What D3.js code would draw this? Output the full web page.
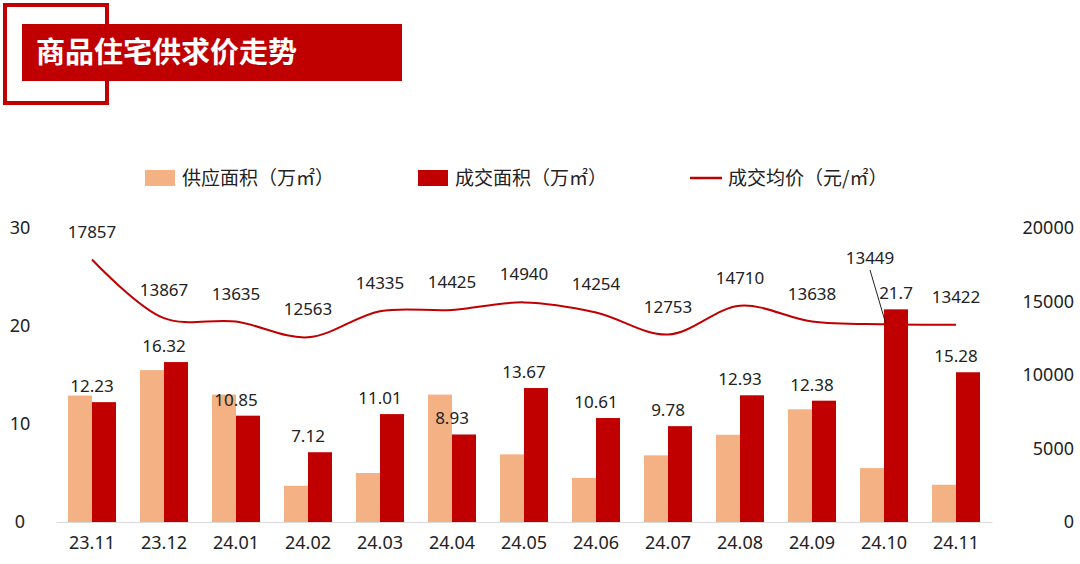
<!DOCTYPE html><html><head><meta charset="utf-8">
<script src="https://cdn.jsdelivr.net/npm/d3@7/dist/d3.min.js"></script>
<style>body{margin:0;background:#fff}svg{font-family:"Noto Sans CJK SC","Noto Sans",sans-serif}</style></head><body>
<svg id="c" width="1080" height="564"></svg>
<script>
const categories=["23.11","23.12","24.01","24.02","24.03","24.04","24.05","24.06","24.07","24.08","24.09","24.10","24.11"];
const supply=[12.9,15.5,13.0,3.7,5.0,13.0,6.9,4.5,6.8,8.9,11.5,5.5,3.8];
const deal=[12.23,16.32,10.85,7.12,11.01,8.93,13.67,10.61,9.78,12.93,12.38,21.7,15.28];
const price=[17857,13867,13635,12563,14335,14425,14940,14254,12753,14710,13638,13449,13422];
const leftTicks=[0,10,20,30];
const rightTicks=[0,5000,10000,15000,20000];
const svg=d3.select("#c");
const red="#c00000",light="#f4b183";
svg.append("rect").attr("x",5).attr("y",5).attr("width",102).attr("height",98).attr("fill","none").attr("stroke",red).attr("stroke-width",4);
svg.append("rect").attr("x",22).attr("y",24).attr("width",380).attr("height",57).attr("fill",red);
svg.append("text").attr("x",36).attr("y",63).attr("fill","#fff").attr("font-size",29).attr("font-weight","bold").text("商品住宅供求价走势");
const x=d3.scaleBand().domain(categories).range([56,992]).padding(0);
const yL=d3.scaleLinear().domain([0,30]).range([522,228]);
const yR=d3.scaleLinear().domain([0,20000]).range([522,228]);
const bw=24;
svg.selectAll(".s").data(supply).join("rect").attr("x",(d,i)=>x(categories[i])+x.bandwidth()/2-bw).attr("y",d=>yL(d)).attr("width",bw).attr("height",d=>yL(0)-yL(d)).attr("fill",light);
svg.selectAll(".d").data(deal).join("rect").attr("x",(d,i)=>x(categories[i])+x.bandwidth()/2).attr("y",d=>yL(d)).attr("width",bw).attr("height",d=>yL(0)-yL(d)).attr("fill",red);
svg.selectAll(".dl").data(deal).join("text").attr("x",(d,i)=>x(categories[i])+x.bandwidth()/2+(i==11?12:0)).attr("y",d=>yL(d)-10).attr("text-anchor","middle").attr("font-size",17).attr("fill","#222").attr("font-family","Noto Sans").text(d=>d);
const cx=i=>x(categories[i])+x.bandwidth()/2;
svg.append("path").datum(price).attr("d",d3.line().x((d,i)=>cx(i)).y(d=>yR(d)).curve(d3.curveCatmullRom.alpha(0.5))).attr("fill","none").attr("stroke",red).attr("stroke-width",2);
svg.selectAll(".pl").data(price).join("text").attr("x",(d,i)=>cx(i)+(i==11?-14:0)).attr("y",(d,i)=>i==11?264:yR(d)-22).attr("text-anchor","middle").attr("font-size",17).attr("fill","#222").attr("font-family","Noto Sans").text(d=>d);
svg.append("line").attr("x1",cx(11)-14).attr("y1",270).attr("x2",cx(11)+2).attr("y2",yR(price[11])).attr("stroke","#222");
const ax=svg.append("g").attr("transform","translate(0,522)").call(d3.axisBottom(x).tickSize(0).tickPadding(14));
ax.select(".domain").attr("stroke","#d9d9d9");
ax.selectAll("text").attr("font-size",18).attr("fill","#222").attr("font-family","Noto Sans");
svg.selectAll(".lt").data(leftTicks).join("text").attr("x",20).attr("y",d=>yL(d)+6).attr("text-anchor","middle").attr("font-size",18).attr("fill","#222").attr("font-family","Noto Sans").text(d=>d);
svg.selectAll(".rt").data(rightTicks).join("text").attr("x",1074).attr("y",d=>yR(d)+6).attr("text-anchor","end").attr("font-size",18).attr("fill","#222").attr("font-family","Noto Sans").text(d=>d);
const lg=svg.append("g").attr("font-size",19).attr("fill","#222");
lg.append("rect").attr("x",145).attr("y",170).attr("width",30).attr("height",16).attr("fill",light);
lg.append("text").attr("x",182).attr("y",185).text("供应面积（万㎡）");
lg.append("rect").attr("x",418).attr("y",170).attr("width",30).attr("height",16).attr("fill",red);
lg.append("text").attr("x",455).attr("y",185).text("成交面积（万㎡）");
lg.append("line").attr("x1",690).attr("x2",722).attr("y1",178).attr("y2",178).attr("stroke",red).attr("stroke-width",2.5);
lg.append("text").attr("x",728).attr("y",185).text("成交均价（元/㎡）");
</script></body></html>
